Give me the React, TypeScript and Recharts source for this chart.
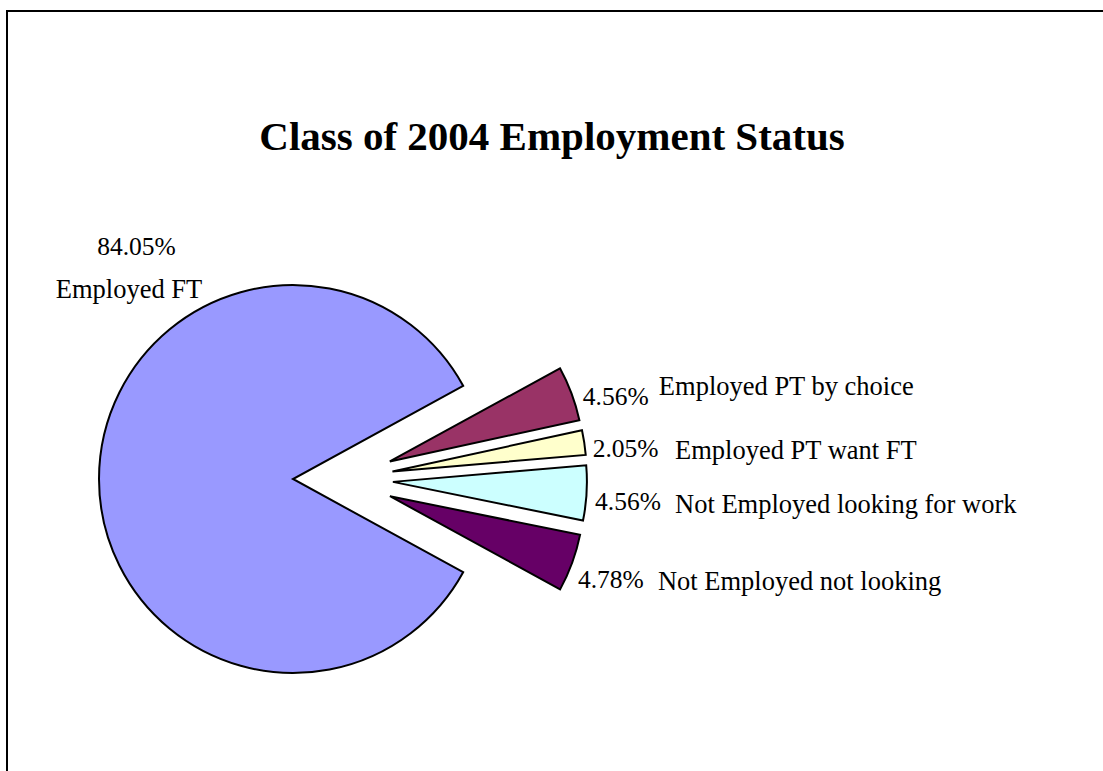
import { PieChart, Pie, Cell } from 'recharts';

// Class of 2004 employment status, shares in percent
const categories = [
  'Employed FT',
  'Employed PT by choice',
  'Employed PT want FT',
  'Not Employed looking for work',
  'Not Employed not looking',
];
const shares = [84.05, 4.56, 2.05, 4.56, 4.78];
const colors = ['#9999FF', '#993366', '#FFFFCC', '#CCFFFF', '#660066'];

const data = categories.map((name, i) => ({ name, value: shares[i] }));
const total = shares.reduce((a, b) => a + b, 0);

const RADIUS = 194;
const CENTER = { x: 343, y: 479 };
const EXPLODE = 50;
// big slice sits centred on the left, small ones fan out to the right
const START = 180 + (shares[0] / total) * 180;
const END = START - 360;

// each slice gets pulled out along its own middle angle
const sliceCenters = shares.map((v, i) => {
  const before = shares.slice(0, i).reduce((a, b) => a + b, 0);
  const mid = START - ((before + v / 2) / total) * 360;
  const rad = (mid * Math.PI) / 180;
  return { x: CENTER.x + EXPLODE * Math.cos(rad), y: CENTER.y - EXPLODE * Math.sin(rad) };
});

// label offsets from each slice's own centre
const labelLayout = [
  { pct: [-156.5, -224], name: [-164, -181], anchor: 'middle' },
  { pct: [193, -56.5], name: [269, -66.5], anchor: 'start' },
  { pct: [200.3, -14.8], name: [282.6, -12.5], anchor: 'start' },
  { pct: [202.1, 28.1], name: [282.1, 30.8], anchor: 'start' },
  { pct: [188, 91.5], name: [268, 93.8], anchor: 'start' },
];

const FONT = '"Liberation Serif", "Times New Roman", serif';

const renderLabel = (slice: number) => (props: any) => {
  if (props.index !== slice) return null;
  const l = labelLayout[slice];
  return (
    <g>
      <text
        x={props.cx + l.pct[0]}
        y={props.cy + l.pct[1]}
        textAnchor={l.anchor}
        fontFamily={FONT}
        fontSize={25.5}
        fill="#000"
      >
        {shares[slice].toFixed(2)}%
      </text>
      <text
        x={props.cx + l.name[0]}
        y={props.cy + l.name[1]}
        textAnchor={l.anchor}
        fontFamily={FONT}
        fontSize={26.5}
        fill="#000"
      >
        {categories[slice]}
      </text>
    </g>
  );
};

export default function App() {
  return (
    <div style={{ position: 'fixed', left: 0, top: 0, width: 1103, height: 771, overflow: 'hidden', background: '#fff' }}>
      <div
        style={{
          position: 'absolute',
          left: 6,
          top: 10,
          width: 1130,
          height: 800,
          border: '2px solid #000',
          boxSizing: 'border-box',
        }}
      />
      <div style={{ position: 'absolute', left: 0, top: 0 }}>
        <PieChart width={1103} height={771} margin={{ top: 0, right: 0, bottom: 0, left: 0 }}>
          {shares.map((_, k) => (
            <Pie
              key={k}
              data={data}
              dataKey="value"
              nameKey="name"
              cx={sliceCenters[k].x}
              cy={sliceCenters[k].y}
              innerRadius={0}
              outerRadius={RADIUS}
              startAngle={START}
              endAngle={END}
              isAnimationActive={false}
              labelLine={false}
              label={renderLabel(k)}
            >
              {data.map((_, i) => (
                <Cell
                  key={i}
                  fill={i === k ? colors[i] : 'none'}
                  stroke={i === k ? '#000' : 'none'}
                  strokeWidth={2}
                />
              ))}
            </Pie>
          ))}
        </PieChart>
      </div>
      <svg width={1103} height={771} style={{ position: 'absolute', left: 0, top: 0, pointerEvents: 'none' }}>
        <text x={552} y={150} textAnchor="middle" fontFamily={FONT} fontWeight="bold" fontSize={41} fill="#000">
          Class of 2004 Employment Status
        </text>
      </svg>
    </div>
  );
}
